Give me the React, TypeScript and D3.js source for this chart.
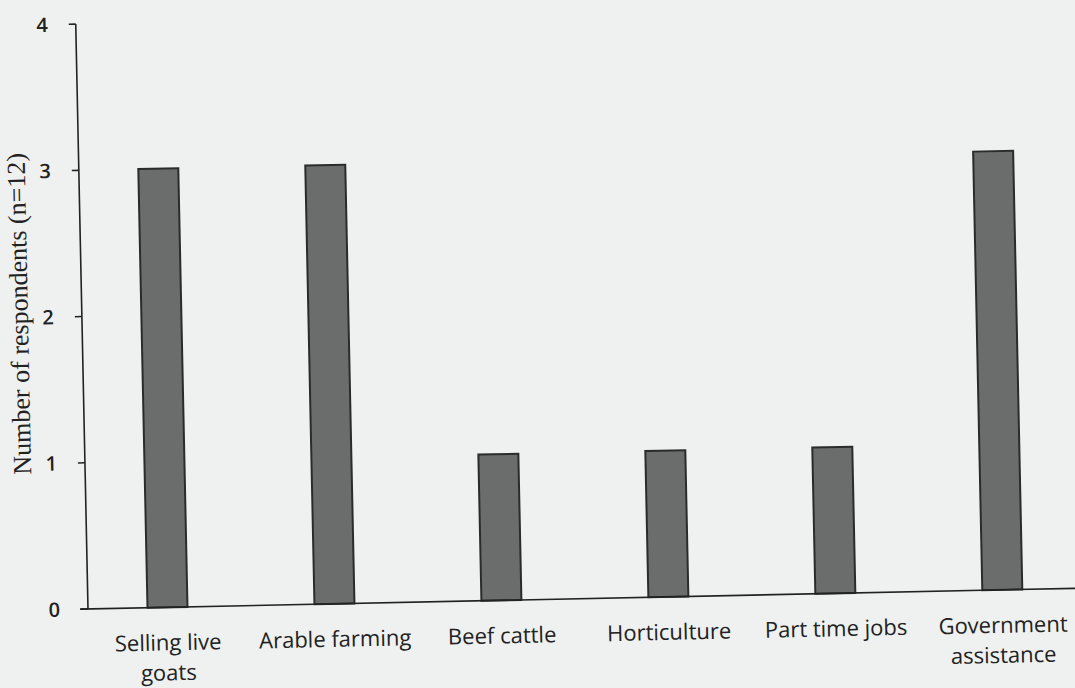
import React from "react";
import * as d3 from "d3";

const categories: string[][] = [
  ["Selling live", "goats"],
  ["Arable farming"],
  ["Beef cattle"],
  ["Horticulture"],
  ["Part time jobs"],
  ["Government", "assistance"],
];
const values: number[] = [3, 3, 1, 1, 1, 3];
const yTicks: number[] = [0, 1, 2, 3, 4];
const yTitle = "Number of respondents (n=12)";

const W = 1075;
const H = 688;
const originX = 88;
const originY = 609;

export default function App() {
  const y = d3.scaleLinear().domain([0, 4]).range([originY, 24]);
  const x = d3
    .scaleBand<number>()
    .domain(values.map((_, i) => i))
    .range([84, 1086])
    .paddingInner(0.77)
    .paddingOuter(0.385);
  const bw = 40;
  return (
    <div style={{ position: "fixed", left: 0, top: 0 }}>
      <svg width={W} height={H} style={{ display: "block", background: "#eff1f0" }}>
        <rect x={0} y={0} width={W} height={H} fill="#eff1f0" />
        <g transform={`rotate(-1.2 ${originX} ${originY})`}>
          {values.map((v, i) => {
            const cx = x(i)! + x.bandwidth() / 2;
            return (
              <rect
                key={i}
                x={cx - bw / 2}
                y={y(v)}
                width={bw}
                height={y(0) - y(v)}
                fill="#6b6c6c"
                stroke="#2b2b2b"
                strokeWidth={2}
              />
            );
          })}
          <line x1={originX} x2={originX} y1={y(4)} y2={y(0)} stroke="#222" strokeWidth={1.6} />
          {yTicks.map((t) => (
            <g key={t}>
              <line x1={originX - 7} x2={originX} y1={y(t)} y2={y(t)} stroke="#222" strokeWidth={1.6} />
              <text
                x={originX - 28}
                y={y(t)}
                dy="0.36em"
                textAnchor="end"
                fontFamily="'Open Sans', Lato, sans-serif"
                fontSize={20}
                fontWeight={600}
                fill="#222"
              >
                {t}
              </text>
            </g>
          ))}
          <line x1={originX - 8} x2={W + 20} y1={y(0)} y2={y(0)} stroke="#222" strokeWidth={1.6} />
          {categories.map((lines, i) => {
            const cx = x(i)! + x.bandwidth() / 2;
            return (
              <text
                key={i}
                x={cx}
                y={originY + 43}
                textAnchor="middle"
                fontFamily="'Open Sans', Lato, sans-serif"
                fontSize={22}
                fill="#222"
              >
                {lines.map((l, j) => (
                  <tspan key={j} x={cx} dy={j === 0 ? 0 : 30}>
                    {l}
                  </tspan>
                ))}
              </text>
            );
          })}
          <text
            transform={`translate(34, ${(y(0) + y(4)) / 2 - 4}) rotate(-90)`}
            textAnchor="middle"
            fontFamily="'Liberation Serif', 'DejaVu Serif', serif"
            fontSize={26}
            fill="#222"
          >
            {yTitle}
          </text>
        </g>
      </svg>
    </div>
  );
}
